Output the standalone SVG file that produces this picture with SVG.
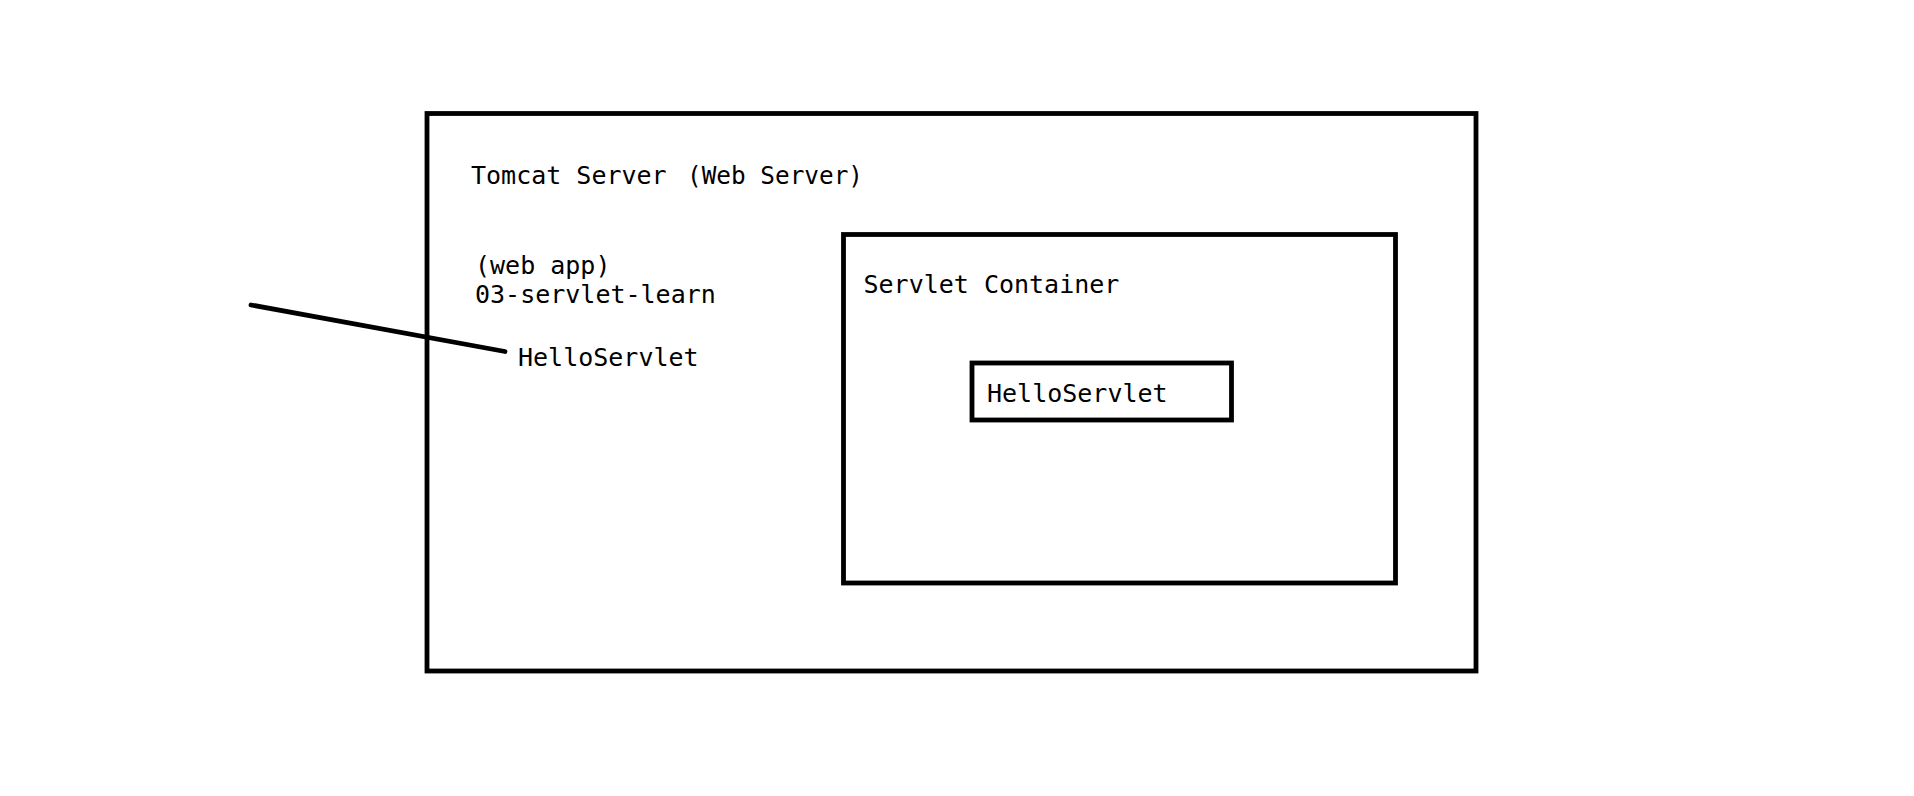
<svg xmlns="http://www.w3.org/2000/svg" width="1914" height="796" viewBox="0 0 1914 796">
<style>
.box{fill:none;stroke:#000;stroke-width:4.8}
.t{font-family:"DejaVu Sans Mono","Liberation Mono",monospace;font-size:25px;fill:#000}
.conn{stroke:#000;stroke-width:4.8;stroke-linecap:round;fill:none}
</style>
<rect width="1914" height="796" fill="#fff"/>
<g id="tomcat-server">
<rect class="box" x="427" y="113.5" width="1049" height="557.5"/>
<text class="t" x="471" y="184">Tomcat Server</text>
<text class="t" x="687" y="184" textLength="176" lengthAdjust="spacingAndGlyphs">(Web Server)</text>
</g>
<g id="web-app">
<text class="t" x="475" y="274">(web app)</text>
<text class="t" x="475" y="303">03-servlet-learn</text>
<text class="t" x="518" y="366">HelloServlet</text>
</g>
<g id="servlet-container">
<rect class="box" x="843.5" y="234.5" width="552" height="348.5"/>
<text class="t" x="863.5" y="293">Servlet Container</text>
</g>
<g id="hello-servlet">
<rect class="box" x="972" y="363" width="259.5" height="57"/>
<text class="t" x="987" y="402">HelloServlet</text>
</g>
<g id="connectors">
<line class="conn" x1="251" y1="305" x2="505" y2="351.5"/>
</g>
</svg>
